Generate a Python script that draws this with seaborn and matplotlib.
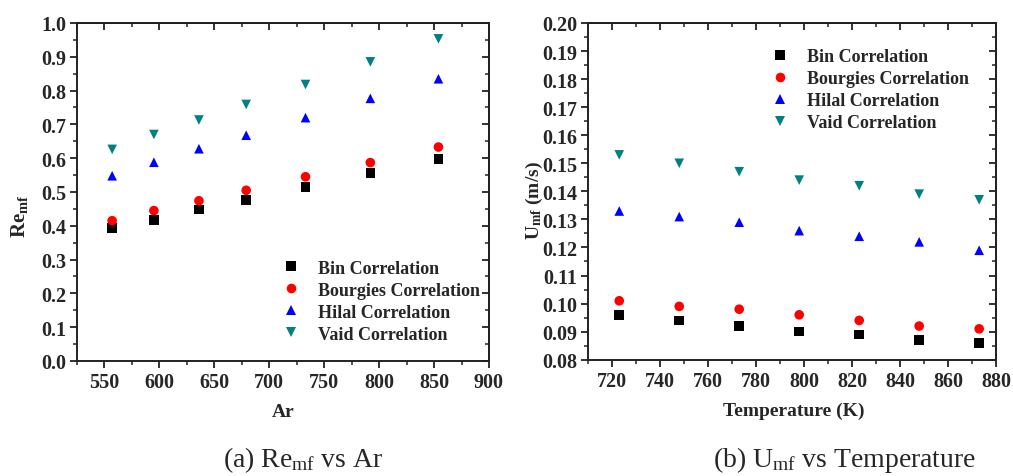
import numpy as np
import pandas as pd
import matplotlib
matplotlib.use("Agg")
import matplotlib.pyplot as plt
import seaborn as sns
from matplotlib.ticker import MultipleLocator, FormatStrFormatter

# ---- data -------------------------------------------------------------
series = ["Bin Correlation", "Bourgies Correlation", "Hilal Correlation", "Vaid Correlation"]

ar = [557, 595, 636, 679, 733, 792, 854]
re_bin = [0.393, 0.418, 0.448, 0.477, 0.514, 0.556, 0.598]
re_bourgies = [0.415, 0.445, 0.474, 0.505, 0.545, 0.587, 0.633]
re_hilal = [0.548, 0.588, 0.628, 0.668, 0.720, 0.777, 0.835]
re_vaid = [0.626, 0.670, 0.713, 0.759, 0.818, 0.885, 0.953]

temperature = [723, 748, 773, 798, 823, 848, 873]
u_bin = [0.096, 0.094, 0.092, 0.090, 0.089, 0.087, 0.086]
u_bourgies = [0.101, 0.099, 0.098, 0.096, 0.094, 0.092, 0.091]
u_hilal = [0.133, 0.131, 0.129, 0.126, 0.124, 0.122, 0.119]
u_vaid = [0.153, 0.150, 0.147, 0.144, 0.142, 0.139, 0.137]

colors = ["#000000", "#ff0000", "#0000ff", "#008080"]
marker_shapes = ["s", "o", "^", "v"]


def long_frame(x, columns, xname, yname):
    parts = [pd.DataFrame({xname: x, yname: vals, "series": name})
             for name, vals in zip(series, columns)]
    return pd.concat(parts, ignore_index=True)


df_re = long_frame(ar, [re_bin, re_bourgies, re_hilal, re_vaid], "Ar", "Re")
df_u = long_frame(temperature, [u_bin, u_bourgies, u_hilal, u_vaid], "T", "U")

# ---- style ------------------------------------------------------------
sns.set_theme(style="ticks")
plt.rcParams["font.family"] = ["Liberation Serif", "DejaVu Serif"]
plt.rcParams["font.weight"] = "normal"
plt.rcParams["mathtext.fontset"] = "custom"
plt.rcParams["mathtext.rm"] = "Liberation Serif:weight=normal"
plt.rcParams["mathtext.bf"] = "Liberation Serif:weight=bold"
plt.rcParams["mathtext.it"] = "Liberation Serif:italic"

palette = dict(zip(series, colors))
markers = dict(zip(series, marker_shapes))

fig = plt.figure(figsize=(10.13, 4.77), dpi=100)
fig.patch.set_facecolor("white")
ax1 = fig.add_axes([0.076, 0.2411, 0.4067, 0.7086])
ax2 = fig.add_axes([0.5805, 0.2438, 0.4027, 0.7059])

TICK_FS = 14.5
LABEL_FS = 14
LEG_FS = 13
INK = "#222222"


def style_axes(ax, xmaj, xmin, ymaj, ymin, yfmt):
    ax.xaxis.set_major_locator(MultipleLocator(xmaj))
    ax.xaxis.set_minor_locator(MultipleLocator(xmin))
    ax.yaxis.set_major_locator(MultipleLocator(ymaj))
    ax.yaxis.set_minor_locator(MultipleLocator(ymin))
    ax.yaxis.set_major_formatter(FormatStrFormatter(yfmt))
    for sp in ax.spines.values():
        sp.set_linewidth(1.4)
        sp.set_color(INK)
    ax.tick_params(which="major", direction="out", length=5, width=1.3,
                   labelsize=TICK_FS, color=INK, pad=3)
    ax.tick_params(which="minor", direction="out", length=3, width=1.1, color=INK)
    # mirrored inward ticks on top and right
    top = ax.secondary_xaxis("top")
    right = ax.secondary_yaxis("right")
    top.xaxis.set_major_locator(MultipleLocator(xmaj))
    top.xaxis.set_minor_locator(MultipleLocator(xmin))
    right.yaxis.set_major_locator(MultipleLocator(ymaj))
    right.yaxis.set_minor_locator(MultipleLocator(ymin))
    for sec in (top, right):
        sec.tick_params(which="major", direction="in", length=5, width=1.3,
                        color=INK, labeltop=False, labelright=False)
        sec.tick_params(which="minor", direction="in", length=3, width=1.1, color=INK)
        for sp in sec.spines.values():
            sp.set_linewidth(1.4)
            sp.set_color(INK)


def finish(ax, anchor):
    sns.move_legend(ax, "center left", bbox_to_anchor=anchor,
                    frameon=False, title=None, fontsize=LEG_FS,
                    handlelength=1.0, handletextpad=1.0, labelspacing=0.28,
                    borderpad=0, borderaxespad=0)
    for txt in ax.get_legend().get_texts():
        txt.set_fontweight("bold")
    for lab in ax.get_xticklabels() + ax.get_yticklabels():
        lab.set_fontweight("bold")


# ---- (a) Re_mf vs Ar ----------------------------------------------------
sns.scatterplot(data=df_re, x="Ar", y="Re", hue="series", style="series",
                palette=palette, markers=markers, s=48, linewidth=0, ax=ax1)
ax1.set_xlim(525, 900)
ax1.set_ylim(0.0, 1.0)
style_axes(ax1, 50, 25, 0.1, 0.05, "%.1f")
ax1.set_xlabel("Ar", fontsize=LABEL_FS, fontweight="bold")
ax1.set_ylabel(r"$\mathbf{Re_{mf}}$", fontsize=LABEL_FS + 1)
ax1.xaxis.set_label_coords(0.5, -0.125)
ax1.yaxis.set_label_coords(-0.115, 0.43)
finish(ax1, (0.4976, 0.177))

# ---- (b) U_mf vs Temperature ------------------------------------------
sns.scatterplot(data=df_u, x="T", y="U", hue="series", style="series",
                palette=palette, markers=markers, s=48, linewidth=0, ax=ax2)
ax2.set_xlim(710, 880)
ax2.set_ylim(0.08, 0.20)
style_axes(ax2, 20, 10, 0.01, 0.005, "%.2f")
ax2.set_xlabel("Temperature (K)", fontsize=LABEL_FS, fontweight="bold")
ax2.set_ylabel(r"$\mathbf{U_{mf}}$ (m/s)", fontsize=LABEL_FS, fontweight="bold")
ax2.xaxis.set_label_coords(0.505, -0.125)
ax2.yaxis.set_label_coords(-0.105, 0.477)
finish(ax2, (0.4485, 0.802))

# ---- captions ---------------------------------------------------------
fig.text(0.299, 0.021, r"(a) Re$_{\mathrm{mf}}$ vs Ar", ha="center", va="baseline",
         fontsize=20, fontweight="normal")
fig.text(0.834, 0.021, r"(b) U$_{\mathrm{mf}}$ vs Temperature", ha="center", va="baseline",
         fontsize=20, fontweight="normal")

fig.savefig("out.png", dpi=100, facecolor="white")
